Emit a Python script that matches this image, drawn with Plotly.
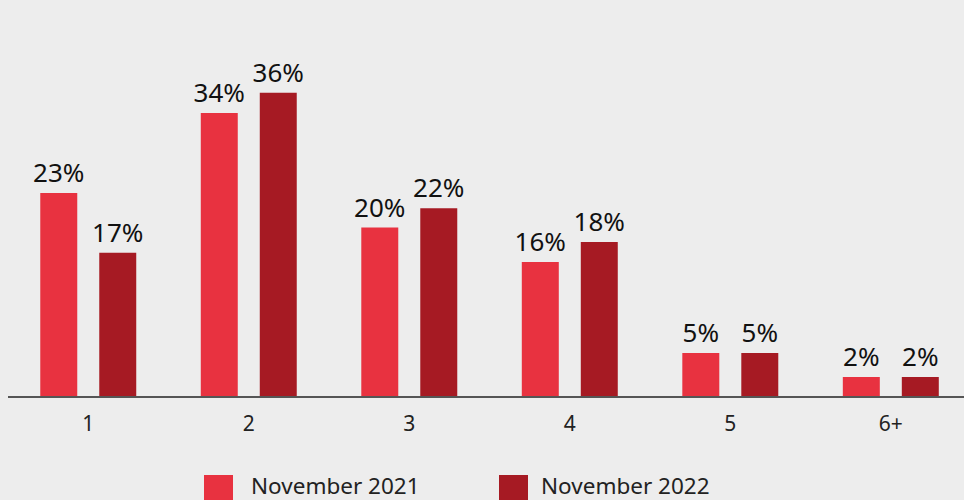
import plotly.graph_objects as go

categories = ["1", "2", "3", "4", "5", "6+"]
series_names = ["November 2021", "November 2022"]
values_2021 = [24.1, 33.6, 20.0, 15.9, 5.1, 2.26]
values_2022 = [17.0, 36.0, 22.3, 18.3, 5.1, 2.26]
labels_2021 = ["23%", "34%", "20%", "16%", "5%", "2%"]
labels_2022 = ["17%", "36%", "22%", "18%", "5%", "2%"]

c1 = "#e83240"
c2 = "#a61a23"
bg = "#ededed"
font = "Noto Sans"

fig = go.Figure()
for name, vals, labs, col in [(series_names[0], values_2021, labels_2021, c1),
                              (series_names[1], values_2022, labels_2022, c2)]:
    fig.add_trace(go.Bar(
        x=categories, y=vals, name=name, marker=dict(color=col, line=dict(width=0)),
        text=labs, textposition="outside", constraintext="none", cliponaxis=False,
        textfont=dict(family=font, size=26, color="#111111"), showlegend=False,
        hoverinfo="skip",
    ))

# custom legend
for i, (name, col) in enumerate(zip(series_names, [c1, c2])):
    fig.add_shape(type="rect", xref="paper", yref="paper",
                  x0=(204 + i * 295 - 8) / 956, x1=(233 + i * 295 - 8) / 956,
                  y0=(396 - 505) / 396, y1=(396 - 475) / 396,
                  fillcolor=col, line=dict(width=0), layer="above")
    fig.add_annotation(xref="paper", yref="paper",
                       x=(249 + i * 290 - 8) / 956, y=(396 - 485.5) / 396,
                       xanchor="left", yanchor="middle", showarrow=False,
                       text=name, font=dict(family=font, size=22.5, color="#222222"))

fig.update_layout(
    width=964, height=500,
    margin=dict(l=8, r=0, t=0, b=104),
    paper_bgcolor=bg, plot_bgcolor=bg,
    barmode="group", bargap=0.265, bargroupgap=0.373,
    xaxis=dict(type="category", range=[-0.5, 5.456], showgrid=False,
               showline=True, linecolor="#555555", linewidth=1.5,
               ticks="", tickfont=dict(family=font, size=21, color="#222222"),
               ticklabelstandoff=8),
    yaxis=dict(range=[0, 47.03], visible=False, showgrid=False, zeroline=False),
)

fig.write_html("out.html", config={"displayModeBar": False},
               post_script="document.body.style.margin='0';document.body.style.background='%s';" % bg)
